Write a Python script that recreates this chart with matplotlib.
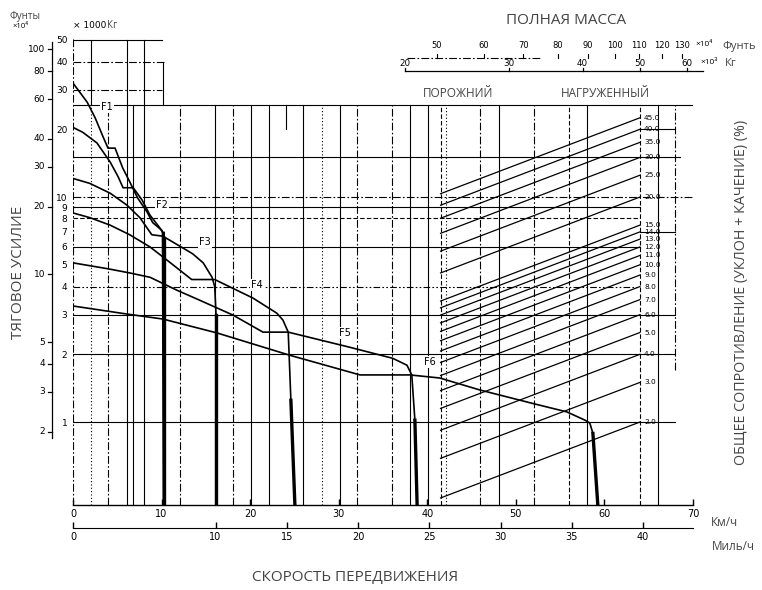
import numpy as np
import matplotlib
matplotlib.use("Agg")
import matplotlib.pyplot as plt
from matplotlib.ticker import NullLocator

# ---- data (speed in km/h, rimpull in 1000 kg) ----
f1_speed = [0, 1.6, 2.5, 3.4, 3.95, 4.75, 5.6, 6.4, 7.3, 8.35, 9.0, 10.05, 10.3, 10.3]
f1_pull = [32.1, 26.4, 22.5, 18.5, 16.5, 16.5, 13.5, 11.7, 9.9, 8.6, 7.7, 7.1, 6.6, 0.43]
f2_speed = [0, 1.1, 2.7, 4.2, 5.1, 5.65, 6.8, 7.8, 8.7, 9.8, 10.2, 10.3]
f2_pull = [20.4, 19.4, 17.4, 14.3, 12.3, 11.0, 11.0, 9.7, 8.3, 7.3, 6.9, 0.43]
f3_speed = [0, 1.9, 4.2, 6.1, 7.55, 8.9, 10.15, 13.5, 14.7, 15.7, 16.0, 16.15, 16.15]
f3_pull = [12.1, 11.5, 10.4, 9.2, 8.1, 6.8, 6.7, 5.6, 5.1, 4.4, 4.0, 3.0, 0.43]
f4_speed = [0, 1.9, 4.2, 6.4, 8.7, 10.6, 13.4, 16.0, 20.3, 23.0, 23.7, 24.3, 24.6, 25.05]
f4_pull = [8.5, 8.1, 7.5, 6.8, 6.0, 5.25, 4.3, 4.3, 3.56, 3.05, 2.84, 2.51, 1.25, 0.43]
f5_speed = [0, 3.95, 6.4, 8.7, 11.7, 14.3, 18.05, 21.45, 24.3, 31.25, 36.1, 37.7, 38.25, 38.6, 38.85]
f5_pull = [5.1, 4.8, 4.6, 4.4, 3.86, 3.48, 2.99, 2.51, 2.51, 2.15, 1.92, 1.79, 1.62, 1.02, 0.43]
f6_speed = [0, 6.1, 10.15, 16.25, 24.5, 32.4, 38.05, 41.4, 45.9, 51.9, 55.75, 57.8, 58.35, 58.7, 59.25]
f6_pull = [3.28, 3.02, 2.87, 2.49, 1.98, 1.62, 1.62, 1.57, 1.39, 1.21, 1.11, 1.02, 0.99, 0.89, 0.43]
gear_names = ["F1", "F2", "F3", "F4", "F5", "F6"]
gear_label_speed = [3.85, 10.05, 14.9, 20.8, 30.7, 40.3]
gear_label_pull = [25.1, 9.2, 6.3, 4.06, 2.49, 1.85]

# total resistance lines (%), empty / loaded mass (1000 kg)
resist_pct = [45, 40, 35, 30, 25, 20, 15, 14, 13, 12, 11, 10, 9, 8, 7, 6, 5, 4, 3, 2]
empty_mass = 23.0
loaded_mass = 50.0

# axis scales
kmh_ticks = [0, 10, 20, 30, 40, 50, 60, 70]
mph_ticks = [0, 10, 15, 20, 25, 30, 35, 40]
kg_ticks = [50, 40, 30, 20, 10, 9, 8, 7, 6, 5, 4, 3, 2, 1]
lb_ticks = [100, 80, 60, 40, 30, 20, 10, 5, 4, 3, 2]
mass_kg_ticks = [20, 30, 40, 50, 60]
mass_lb_ticks = [50, 60, 70, 80, 90, 100, 110, 120, 130]

KM_PER_MILE = 1.609
T_PER_KLB = 0.4536

# ---- layout ----
W, H = 762, 590
DD = (0, (7, 2, 1.5, 2))
DOT = (0, (1, 2))
DASH = (0, (4, 2))
DDD = (0, (6, 2, 1.5, 2, 1.5, 2))
x_empty, x_loaded = 41.5, 64.0   # km/h positions of the empty / loaded mass lines
top = 25.6

# horizontal grid: (pull, from, to, style)
hgrid = [(top, 0, 70.5, "-"), (15, 0, 68.5, "-"), (10, 0, 70, DD), (9, 0, 64, "-"),
         (8.1, 0, 64, DASH), (6, 0, 64, "-"), (4, 0, 64, DDD), (3, 0, 68, "-"),
         (2, 0, 68, "-"), (1, 0, 68, "-"), (50, 0, 10, "-"), (40, 0, 10.3, DD),
         (30, 0, 10, DD), (20, 64, 68, "-"), (7, 64, 68, "-")]
# vertical grid: (speed, from pull, to pull, style)
vgrid = [(0, 0.43, 50.4, DD), (2.0, top, 50, "-"), (2.0, 0.43, top, DOT), (4.0, 0.43, top, DD),
         (6.1, 0.43, 50, "-"), (6.8, 0.43, top, "-"), (8.0, 0.43, 50, "-"),
         (10.2, top, 40, "-"), (12.1, 0.43, top, DD), (16.0, 0.43, top, "-"),
         (18.1, 0.43, top, DD), (20.1, 0.43, top, "-"), (22.1, 0.43, top, "-"),
         (24.0, 20, top, "-"), (26.0, 0.43, top, "-"), (28.1, 0.43, top, DOT),
         (30.1, 0.43, top, "-"), (32.1, 0.43, top, DD), (36.0, 0.43, top, DD),
         (38.0, 0.43, top, "-"), (40.1, 0.43, top, "-"), (x_empty, 0.43, top, DASH),
         (42.1, 0.43, top, DOT), (46.0, 0.43, top, DD), (48.1, 0.43, top, "-"),
         (52.1, 0.43, top, DD), (56.0, 0.43, top, DASH), (58.0, 0.43, top, "-"),
         (x_loaded, 0.43, top, DASH), (66.0, 0.43, top, "-"), (68.0, 1.7, top, DD)]

NUM = ["Liberation Sans Narrow", "DejaVu Sans"]
TXT = ["Open Sans", "DejaVu Sans"]
GREY = "#444444"


def row(r):
    # pixel row -> axes fraction of the main axes
    return (505 - r) / 466.0


def mass_x(w):
    k = (np.log10(w) - np.log10(empty_mass)) / (np.log10(loaded_mass) - np.log10(empty_mass))
    return x_empty + k * (x_loaded - x_empty)


fig = plt.figure(figsize=(W / 100, H / 100), dpi=100)
ax = fig.add_axes([73 / W, 85 / H, 620 / W, 466 / H])
ax.set_yscale("log")
ax.set_xlim(0, 70)
ax.set_ylim(0.428, 50.4)
for s in ["top", "right", "left"]:
    ax.spines[s].set_visible(False)
ax.spines["bottom"].set_linewidth(1.0)

for y, a, b, ls in hgrid:
    ax.plot([a, b], [y, y], color="black", lw=0.8, ls=ls)
for x, a, b, ls in vgrid:
    ax.plot([x, x], [a, b], color="black", lw=0.8, ls=ls)

# resistance lines
for r in resist_pct:
    ax.plot([x_empty, x_loaded], [empty_mass * r / 100, loaded_mass * r / 100],
            color="black", lw=0.9)
    ax.annotate(f"{r:.1f}", (x_loaded, loaded_mass * r / 100), xytext=(3, 0),
                textcoords="offset points", va="center", ha="left", fontsize=5.3,
                family=NUM, annotation_clip=False)

# gear curves
curves = [(f1_speed, f1_pull), (f2_speed, f2_pull), (f3_speed, f3_pull),
          (f4_speed, f4_pull), (f5_speed, f5_pull), (f6_speed, f6_pull)]
for (v, p) in curves:
    ax.plot(v, p, color="black", lw=1.2, solid_joinstyle="round")
    ax.plot(v[-2:], p[-2:], color="black", lw=2.4)
for name, v, p in zip(gear_names, gear_label_speed, gear_label_pull):
    ax.text(v, p, name, fontsize=7, ha="center", va="center", family=NUM,
            bbox=dict(facecolor="white", edgecolor="none", pad=0.6))

# speed axes
ax.set_xticks(kmh_ticks)
ax.xaxis.set_minor_locator(NullLocator())
ax.tick_params(axis="x", direction="in", length=4, width=1, labelsize=7, pad=3)
for lab in ax.get_xticklabels():
    lab.set_family(NUM)
sec = ax.secondary_xaxis(row(528), functions=(lambda v: np.asarray(v) / KM_PER_MILE,
                                              lambda m: np.asarray(m) * KM_PER_MILE))
sec.set_xticks(mph_ticks)
sec.xaxis.set_minor_locator(NullLocator())
sec.tick_params(direction="in", length=4, width=1, labelsize=7, pad=3)
for lab in sec.get_xticklabels():
    lab.set_family(NUM)

# kg scale (tick labels) and pound scale on the left
ax.set_yticks(kg_ticks)
ax.set_yticklabels([str(k) for k in kg_ticks])
ax.yaxis.set_minor_locator(NullLocator())
ax.tick_params(axis="y", length=0, labelsize=6.5, pad=4)
for lab in ax.get_yticklabels():
    lab.set_family(NUM)

ytr = ax.get_yaxis_transform()
lbx = (52 - 73) / 620
ax.plot([lbx, lbx], [0.85, 49], color="black", lw=0.9, transform=ytr, clip_on=False)
for lb in lb_ticks:
    t = lb * T_PER_KLB
    ax.plot([lbx - 0.007, lbx], [t, t], color="black", lw=0.9, transform=ytr, clip_on=False)
    ax.text(lbx - 0.011, t, str(lb), transform=ytr, ha="right", va="center",
            fontsize=6.5, family=NUM)

# total mass scales at the top right
xtr = ax.get_xaxis_transform()
ax.plot([mass_x(20), mass_x(64)], [row(71), row(71)], color="black", lw=0.9,
        transform=xtr, clip_on=False)
for m in mass_kg_ticks:
    ax.plot([mass_x(m)] * 2, [row(71), row(68)], color="black", lw=0.9,
            transform=xtr, clip_on=False)
    ax.text(mass_x(m), row(63), str(m), transform=xtr, ha="center", va="center",
            fontsize=6.3, family=NUM)
ax.plot([mass_x(20.2), mass_x(34)], [row(58), row(58)], color="black", lw=0.8, ls=DD,
        transform=xtr, clip_on=False)
for m in mass_lb_ticks:
    x = mass_x(m * T_PER_KLB)
    ax.plot([x, x], [row(58), row(54)], color="black", lw=0.8, transform=xtr, clip_on=False)
    ax.text(x, row(45), str(m), transform=xtr, ha="center", va="center",
            fontsize=6.0, family=NUM)


def ftext(x, y, s, **kw):
    kw.setdefault("family", TXT)
    kw.setdefault("color", GREY)
    fig.text(x / W, 1 - y / H, s, ha="center", va="center", **kw)


ftext(25, 17, "Фунты", fontsize=7)
ftext(20, 26, "×10⁴", fontsize=5.5, color="black")
ftext(90, 25, "× 1000", fontsize=6.5, color="black", family=NUM)
ftext(112, 26, "Кг", fontsize=7)
ftext(566, 20, "ПОЛНАЯ МАССА", fontsize=11)
ftext(704, 44, "×10⁴", fontsize=6, color="black")
ftext(739, 46, "Фунть", fontsize=8)
ftext(709, 62, "×10³", fontsize=6, color="black")
ftext(731, 64, "Кг", fontsize=8)
ftext(458, 93, "ПОРОЖНИЙ", fontsize=8.5)
ftext(605, 93, "НАГРУЖЕННЫЙ", fontsize=8.5)
ftext(19, 272, "ТЯГОВОЕ УСИЛИЕ", fontsize=11, rotation=90)
ftext(741, 292, "ОБЩЕЕ СОПРОТИВЛЕНИЕ (УКЛОН + КАЧЕНИЕ) (%)", fontsize=10.3, rotation=90)
ftext(724, 523, "Км/ч", fontsize=8.5)
ftext(733, 546, "Миль/ч", fontsize=8.5)
ftext(355, 577, "СКОРОСТЬ ПЕРЕДВИЖЕНИЯ", fontsize=11)

fig.savefig("out.png", dpi=100)
